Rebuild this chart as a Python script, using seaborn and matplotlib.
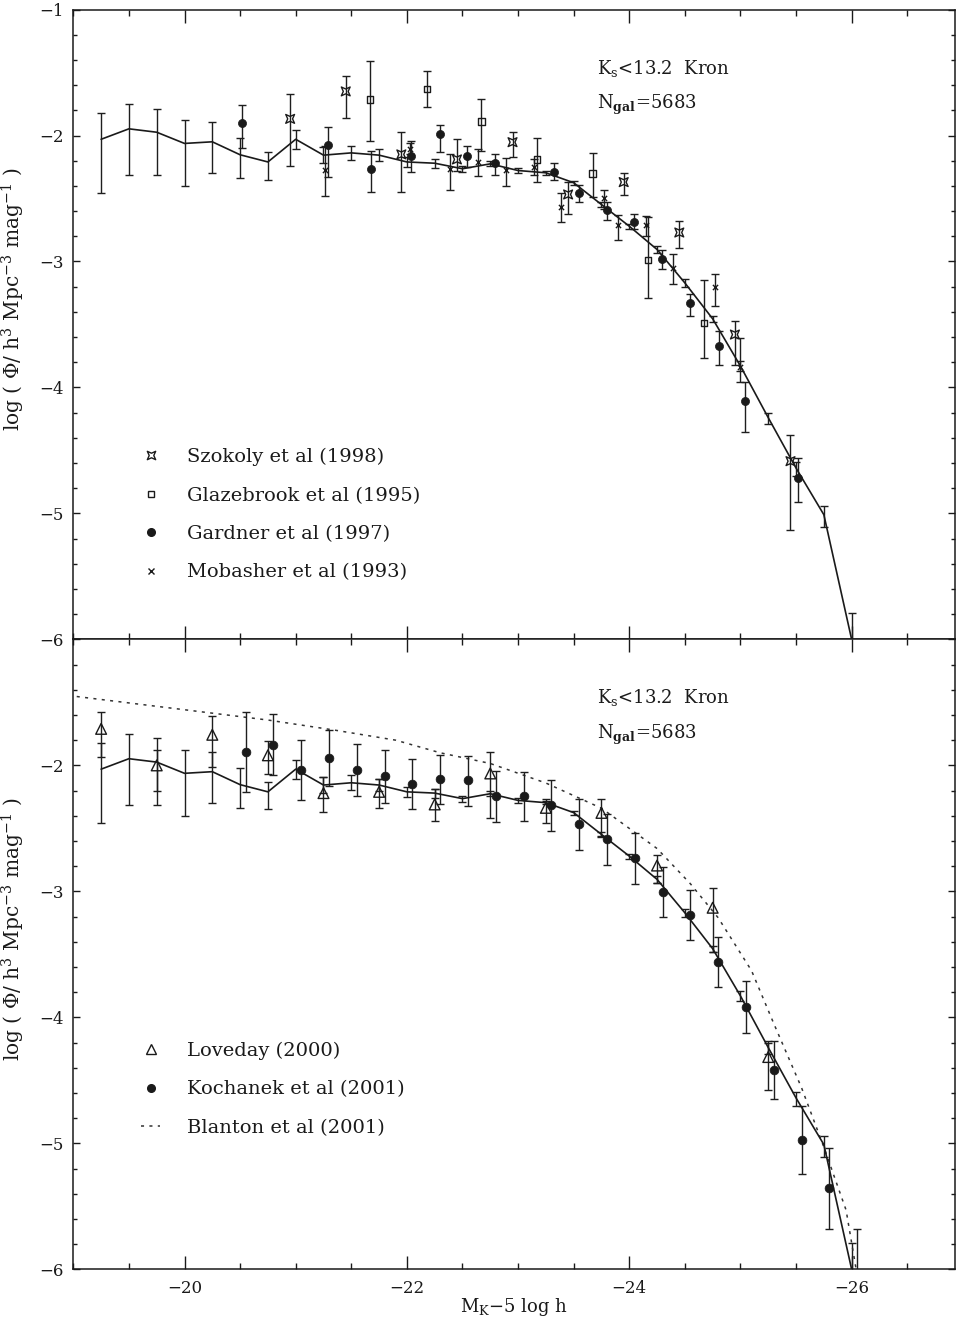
import numpy as np
import pandas as pd
import matplotlib
matplotlib.use("Agg")
import matplotlib.pyplot as plt
from matplotlib.path import Path
from matplotlib.lines import Line2D
from matplotlib.ticker import MultipleLocator
import seaborn as sns

# ================= DATA =================
# this work: K_s < 13.2 Kron luminosity function
lf_mag = [-19.25, -19.50, -19.75, -20.00, -20.25, -20.50, -20.75, -21.00, -21.25, -21.50,
          -21.75, -22.00, -22.25, -22.50, -22.75, -23.00, -23.25, -23.50, -23.75, -24.00,
          -24.25, -24.50, -24.75, -25.00, -25.25, -25.50, -25.75, -26.00]
lf_phi = [-2.03, -1.947, -1.974, -2.063, -2.05, -2.153, -2.21, -2.03, -2.156, -2.138,
          -2.156, -2.21, -2.22, -2.264, -2.225, -2.278, -2.296, -2.375, -2.548, -2.72,
          -2.905, -3.17, -3.455, -3.83, -4.24, -4.64, -5.01, -6.0]
lf_top = [-1.825, -1.749, -1.786, -1.876, -1.89, -2.02, -2.13, -1.96, -2.09, -2.08,
          -2.106, -2.17, -2.185, -2.24, -2.205, -2.26, -2.283, -2.36, -2.53, -2.70,
          -2.88, -3.14, -3.43, -3.79, -4.20, -4.59, -4.94, -5.79]
lf_bot = [-2.455, -2.315, -2.315, -2.40, -2.30, -2.34, -2.35, -2.11, -2.22, -2.196,
          -2.204, -2.25, -2.26, -2.29, -2.245, -2.30, -2.31, -2.39, -2.565, -2.74,
          -2.93, -3.20, -3.48, -3.87, -4.29, -4.70, -5.11, -6.3]

szk_mag = [-20.95, -21.45, -21.95, -22.45, -22.95, -23.45, -23.95, -24.45, -24.95, -25.45]
szk_phi = [-1.868, -1.65, -2.15, -2.19, -2.053, -2.468, -2.37, -2.77, -3.58, -4.585]
szk_top = [-1.67, -1.53, -1.97, -2.03, -1.97, -2.37, -2.30, -2.68, -3.47, -4.38]
szk_bot = [-2.24, -1.86, -2.45, -2.28, -2.17, -2.62, -2.47, -2.89, -3.82, -5.13]

glz_mag = [-21.67, -22.18, -22.67, -23.17, -23.67, -24.17, -24.67]
glz_phi = [-1.714, -1.629, -1.89, -2.19, -2.30, -2.99, -3.49]
glz_top = [-1.41, -1.49, -1.71, -2.02, -2.14, -2.65, -3.15]
glz_bot = [-2.04, -1.772, -2.12, -2.37, -2.49, -3.29, -3.77]

gar_mag = [-20.52, -21.29, -21.68, -22.04, -22.30, -22.54, -22.79, -23.32, -23.55, -23.80,
           -24.04, -24.29, -24.55, -24.81, -25.04, -25.52]
gar_phi = [-1.90, -2.077, -2.267, -2.16, -1.987, -2.16, -2.217, -2.286, -2.458, -2.593,
           -2.685, -2.98, -3.33, -3.67, -4.11, -4.717]
gar_top = [-1.76, -1.93, -2.12, -2.04, -1.92, -2.08, -2.15, -2.22, -2.39, -2.53,
           -2.62, -2.91, -3.26, -3.55, -3.96, -4.56]
gar_bot = [-2.10, -2.33, -2.45, -2.29, -2.13, -2.25, -2.317, -2.35, -2.53, -2.67,
           -2.74, -3.06, -3.43, -3.82, -4.35, -4.91]

mob_mag = [-21.26, -22.03, -22.39, -22.64, -22.89, -23.14, -23.39, -23.77, -23.90, -24.15,
           -24.39, -24.77, -25.00]
mob_phi = [-2.27, -2.106, -2.262, -2.21, -2.27, -2.249, -2.569, -2.495, -2.71, -2.71,
           -3.05, -3.20, -3.84]
mob_top = [-2.085, -2.06, -2.145, -2.11, -2.18, -2.19, -2.46, -2.43, -2.63, -2.64,
           -2.94, -3.10, -3.61]
mob_bot = [-2.484, -2.15, -2.43, -2.32, -2.40, -2.31, -2.69, -2.58, -2.83, -2.80,
           -3.18, -3.35, -3.96]

lov_mag = [-19.25, -19.75, -20.25, -20.75, -21.25, -21.75, -22.25, -22.75, -23.25, -23.75,
           -24.25, -24.75, -25.25]
lov_phi = [-1.71, -2.00, -1.757, -1.92, -2.22, -2.21, -2.31, -2.064, -2.337, -2.377,
           -2.795, -3.13, -4.315]
lov_top = [-1.574, -1.88, -1.61, -1.81, -2.09, -2.11, -2.19, -1.89, -2.265, -2.265,
           -2.71, -2.97, -4.19]
lov_bot = [-1.935, -2.20, -2.01, -2.07, -2.37, -2.34, -2.44, -2.42, -2.456, -2.56,
           -2.93, -3.48, -4.58]

koc_mag = [-20.55, -20.80, -21.05, -21.30, -21.55, -21.80, -22.05, -22.30, -22.55, -22.80,
           -23.05, -23.30, -23.55, -23.80, -24.05, -24.30, -24.55, -24.80, -25.05, -25.30,
           -25.55, -25.80, -26.05]
koc_phi = [-1.895, -1.837, -2.035, -1.945, -2.035, -2.086, -2.146, -2.107, -2.117, -2.247,
           -2.247, -2.318, -2.469, -2.583, -2.737, -3.007, -3.187, -3.558, -3.917, -4.415,
           -4.977, -5.355, -6.3]
koc_top = [-1.574, -1.596, -1.80, -1.72, -1.83, -1.874, -1.948, -1.915, -1.923, -2.046,
           -2.05, -2.118, -2.265, -2.382, -2.54, -2.81, -2.986, -3.36, -3.71, -4.19,
           -4.707, -5.037, -5.68]
koc_bot = [-2.213, -2.075, -2.276, -2.16, -2.245, -2.30, -2.345, -2.31, -2.32, -2.448,
           -2.44, -2.517, -2.668, -2.787, -2.94, -3.206, -3.39, -3.76, -4.127, -4.648,
           -5.244, -5.678, -6.9]

bla_mag = [-19.0, -20.2, -20.75, -21.35, -21.9, -22.3, -22.75, -23.25, -23.75, -24.25,
           -24.55, -24.8, -25.1, -25.3, -25.55, -25.75, -25.95, -26.05]
bla_phi = [-1.45, -1.58, -1.64, -1.72, -1.80, -1.90, -1.985, -2.14, -2.34, -2.66,
           -2.94, -3.21, -3.63, -4.05, -4.56, -5.03, -5.53, -6.05]

text_lines = [r"K$_{\rm s}$<13.2  Kron", r"N$_{\mathbf{gal}}$=5683"]
ylab = r"log ( $\Phi$/ h$^3$ Mpc$^{-3}$ mag$^{-1}$ )"
xlab = r"M$_{\rm K}$$-$5 log h"

# ================= STYLE =================
sns.set_theme(style="ticks")
plt.rcParams['font.family'] = ['DejaVu Serif']
plt.rcParams['mathtext.fontset'] = 'dejavuserif'
plt.rcParams['axes.linewidth'] = 1.1
plt.rcParams['text.color'] = 'k'
plt.rcParams['axes.labelcolor'] = 'k'
plt.rcParams['xtick.color'] = 'k'
plt.rcParams['ytick.color'] = 'k'
plt.rcParams['axes.edgecolor'] = 'k'

ERR_COLOR = '#1e1e1e'

# concave square marker used for Szokoly et al
szk_marker = Path([(1, 1), (0, 0.55), (-1, 1), (-0.55, 0), (-1, -1), (0, -0.55),
                   (1, -1), (0.55, 0), (1, 1)],
                  [Path.MOVETO] + [Path.LINETO] * 7 + [Path.CLOSEPOLY])


def errbars(ax, x, y, top, bot):
    y = np.array(y)
    lo = y - np.array(bot)
    hi = np.array(top) - y
    ax.errorbar(x, y, yerr=[lo, hi], fmt='none', ecolor=ERR_COLOR,
                elinewidth=1.0, capsize=3, capthick=1.0, zorder=2)


def main_lf(ax):
    errbars(ax, lf_mag, lf_phi, lf_top, lf_bot)
    sns.lineplot(x=lf_mag, y=lf_phi, ax=ax, color='k', lw=1.2, zorder=3)


def style_axes(ax, labels_y):
    ax.set_xlim(-19.0, -26.93)
    ax.set_ylim(-6, -1)
    ax.xaxis.set_major_locator(MultipleLocator(2))
    ax.xaxis.set_minor_locator(MultipleLocator(0.5))
    ax.yaxis.set_major_locator(MultipleLocator(1))
    ax.yaxis.set_minor_locator(MultipleLocator(0.2))
    ax.tick_params(axis='both', which='both', direction='in', top=True, right=True,
                   width=1.0, color='k', labelcolor='k', labelsize=12)
    ax.tick_params(axis='x', which='major', length=9.5, pad=8)
    ax.tick_params(axis='x', which='minor', length=4.5)
    ax.tick_params(axis='y', which='major', length=5, pad=7)
    ax.tick_params(axis='y', which='minor', length=3)
    ax.set_yticks([-6, -5, -4, -3, -2, -1])
    ax.set_yticklabels(labels_y)
    ax.set_ylabel(ylab, fontsize=14.5)
    ax.yaxis.set_label_coords(-0.053, 0.54)
    for sp in ax.spines.values():
        sp.set_visible(True)
        sp.set_color('k')
    ax.text(0.594, 0.907, text_lines[0], transform=ax.transAxes, fontsize=13,
            va='center', ha='left')
    ax.text(0.594, 0.848, text_lines[1], transform=ax.transAxes, fontsize=13,
            va='center', ha='left')


fig, (ax1, ax2) = plt.subplots(2, 1, figsize=(9.56, 13.23), dpi=100, sharex=True)
fig.subplots_adjust(left=0.0767, right=0.999, top=0.9928, bottom=0.0406, hspace=0)

# ================= TOP PANEL =================
main_lf(ax1)
errbars(ax1, szk_mag, szk_phi, szk_top, szk_bot)
errbars(ax1, glz_mag, glz_phi, glz_top, glz_bot)
errbars(ax1, gar_mag, gar_phi, gar_top, gar_bot)
errbars(ax1, mob_mag, mob_phi, mob_top, mob_bot)
sns.scatterplot(x=szk_mag, y=szk_phi, ax=ax1, marker=szk_marker, s=40,
                facecolor='none', edgecolor='k', linewidth=1.0, zorder=4)
sns.scatterplot(x=glz_mag, y=glz_phi, ax=ax1, marker='s', s=22,
                facecolor='none', edgecolor='k', linewidth=1.0, zorder=4)
sns.scatterplot(x=gar_mag, y=gar_phi, ax=ax1, marker='o', s=34,
                color='k', edgecolor='k', linewidth=0.5, zorder=4)
sns.scatterplot(x=mob_mag, y=mob_phi, ax=ax1, marker='x', s=14,
                color='k', linewidth=1.0, zorder=4)

style_axes(ax1, ['\u22126', '\u22125', '\u22124', '\u22123', '\u22122', '\u22121'])
ax1.set_xlabel('')
ax1.tick_params(axis='x', labelbottom=False)

h_top = [Line2D([], [], ls='none', marker=szk_marker, ms=6, mfc='none', mec='k', mew=1.0),
         Line2D([], [], ls='none', marker='s', ms=4.5, mfc='none', mec='k', mew=1.0),
         Line2D([], [], ls='none', marker='o', ms=5.5, color='k'),
         Line2D([], [], ls='none', marker='x', ms=4, color='k', mew=1.0)]
ax1.legend(h_top, ["Szokoly et al (1998)", "Glazebrook et al (1995)",
                   "Gardner et al (1997)", "Mobasher et al (1993)"],
           loc='upper left', bbox_to_anchor=(0.0768, 0.304), frameon=False,
           fontsize=14, handlelength=1.0, handletextpad=1.35, labelspacing=1.05,
           borderpad=0, borderaxespad=0)

# ================= BOTTOM PANEL =================
main_lf(ax2)
sns.lineplot(x=bla_mag, y=bla_phi, ax=ax2, color='#333333', lw=1.1,
             linestyle=(0, (2, 3.5)), zorder=2)
errbars(ax2, lov_mag, lov_phi, lov_top, lov_bot)
errbars(ax2, koc_mag, koc_phi, koc_top, koc_bot)
sns.scatterplot(x=lov_mag, y=lov_phi, ax=ax2, marker='^', s=60,
                facecolor='none', edgecolor='k', linewidth=1.0, zorder=4)
sns.scatterplot(x=koc_mag, y=koc_phi, ax=ax2, marker='o', s=40,
                color='k', edgecolor='k', linewidth=0.5, zorder=4)

style_axes(ax2, ['\u22126', '\u22125', '\u22124', '\u22123', '\u22122', ''])
ax2.set_xticks([-20, -22, -24, -26])
ax2.set_xticklabels(['\u221220', '\u221222', '\u221224', '\u221226'])
ax2.set_xlim(-19.0, -26.93)
ax2.set_xlabel(xlab, fontsize=13, labelpad=-1)

h_bot = [Line2D([], [], ls='none', marker='^', ms=7, mfc='none', mec='k', mew=1.0),
         Line2D([], [], ls='none', marker='o', ms=5.5, color='k'),
         Line2D([], [], color='#333333', lw=1.1, linestyle=(0, (2, 3.5)))]
ax2.legend(h_bot, ["Loveday (2000)", "Kochanek et al (2001)", "Blanton et al (2001)"],
           loc='upper left', bbox_to_anchor=(0.0768, 0.361), frameon=False,
           fontsize=14, handlelength=1.0, handletextpad=1.35, labelspacing=1.05,
           borderpad=0, borderaxespad=0)

plt.savefig("out.png", dpi=100)
